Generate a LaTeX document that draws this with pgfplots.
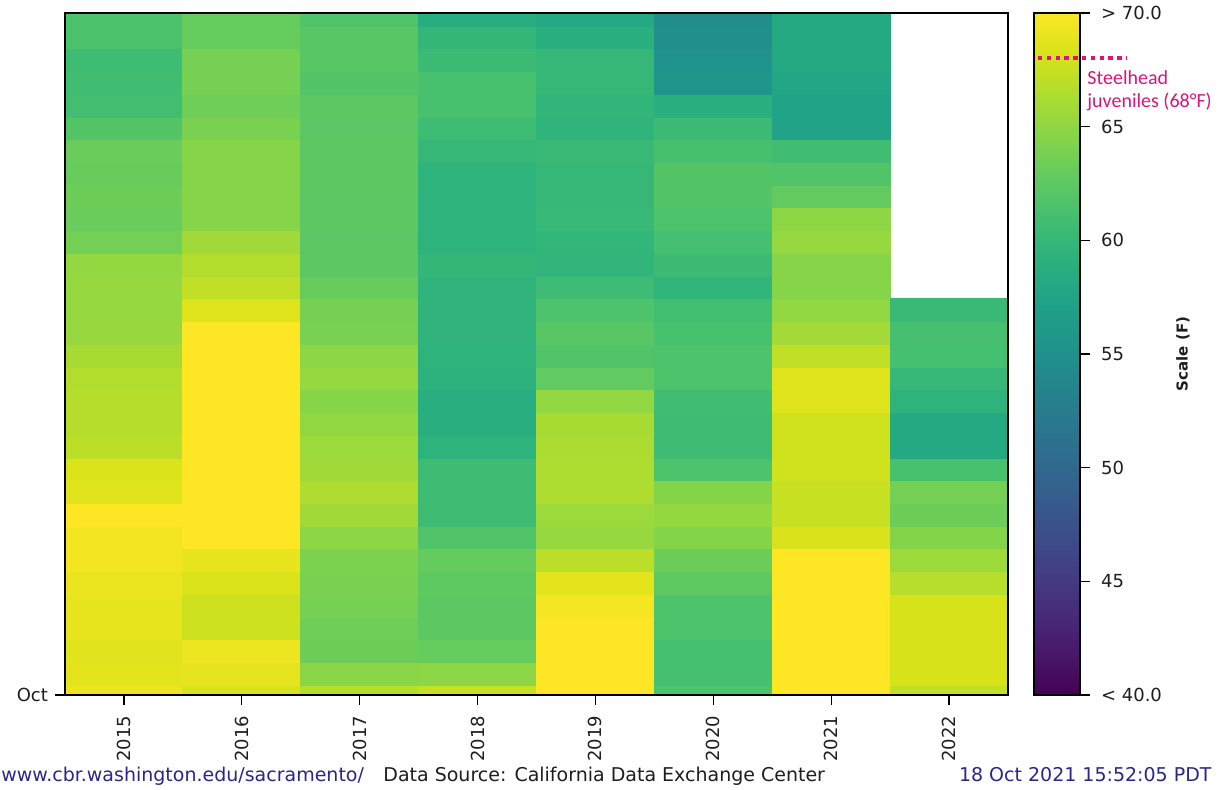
\documentclass[border=0pt]{standalone}
\usepackage{fontspec}
\setmainfont{DejaVu Sans}
\newfontfamily\calib{Carlito}
\usepackage{pgfplots}
\pgfplotsset{compat=1.18}
\definecolor{navy}{RGB}{40,40,140}
\definecolor{mag}{RGB}{220,20,120}
\definecolor{txt}{RGB}{30,30,30}
\begin{document}
\begin{tikzpicture}
\useasboundingbox (0pt,0pt) rectangle (614pt,395pt);
\begin{axis}[
  at={(32.5pt,47.5pt)}, anchor=south west,
  scale only axis, width=471.5pt, height=341pt,
  xmin=0, xmax=8, ymin=0, ymax=210,
  xtick={0.5,1.5,2.5,3.5,4.5,5.5,6.5,7.5},
  xticklabels={2015,2016,2017,2018,2019,2020,2021,2022},
  ytick={0}, yticklabels={Oct},
  xtick pos=bottom, ytick pos=left,
  tick align=outside, major tick length=5pt,
  tick style={black, line width=0.6pt},
  axis line style={black, line width=0.7pt},
  xticklabel style={rotate=90, anchor=east, font=\fontsize{9}{10}\selectfont, text=txt, xshift=-2pt},
  yticklabel style={font=\fontsize{9}{10}\selectfont, text=txt},
  axis on top,
  colormap/viridis, point meta min=40, point meta max=70,
]
% lattice: x = column boundary (0 = left edge of 2015), y = days since Oct 1 (cell lower edge), v = weekly temperature (F)
\addplot[surf, shader=flat corner, mesh/rows=32, mesh/cols=8, point meta=\thisrow{v}]
table[row sep=\\]{
x y v\\
0 0 69.2\\ 1 0 68.3\\ 2 0 66.7\\ 3 0 67.5\\ 4 0 70\\ 5 0 61.6\\ 6 0 70\\ 7 0 70\\
0 3 68.8\\ 1 3 68.9\\ 2 3 64.8\\ 3 3 64.9\\ 4 3 70\\ 5 3 61.1\\ 6 3 70\\ 7 3 70\\
0 10 68.7\\ 1 10 69.2\\ 2 10 63.3\\ 3 10 63.0\\ 4 10 70\\ 5 10 61.1\\ 6 10 70\\ 7 10 70\\
0 17 69.0\\ 1 17 67.8\\ 2 17 63.4\\ 3 17 62.5\\ 4 17 70\\ 5 17 61.6\\ 6 17 70\\ 7 17 70\\
0 24 69.0\\ 1 24 67.8\\ 2 24 63.8\\ 3 24 62.5\\ 4 24 69.6\\ 5 24 61.6\\ 6 24 70\\ 7 24 70\\
0 31 69.1\\ 1 31 68.4\\ 2 31 64.0\\ 3 31 62.6\\ 4 31 68.8\\ 5 31 62.6\\ 6 31 70\\ 7 31 70\\
0 38 69.5\\ 1 38 69.0\\ 2 38 64.1\\ 3 38 62.9\\ 4 38 67.0\\ 5 38 63.3\\ 6 38 70\\ 7 38 70\\
0 45 69.5\\ 1 45 70\\ 2 45 64.9\\ 3 45 61.8\\ 4 45 65.3\\ 5 45 64.5\\ 6 45 68.3\\ 7 45 68.3\\
0 52 70\\ 1 52 70\\ 2 52 65.8\\ 3 52 60.6\\ 4 52 65.6\\ 5 52 65.2\\ 6 52 67.5\\ 7 52 67.5\\
0 59 68.6\\ 1 59 70\\ 2 59 66.4\\ 3 59 60.6\\ 4 59 66.4\\ 5 59 64.5\\ 6 59 67.5\\ 7 59 67.5\\
0 66 68.4\\ 1 66 70\\ 2 66 65.8\\ 3 66 60.6\\ 4 66 66.4\\ 5 66 61.6\\ 6 66 67.9\\ 7 66 67.9\\
0 73 67.0\\ 1 73 70\\ 2 73 65.6\\ 3 73 59.4\\ 4 73 66.3\\ 5 73 60.6\\ 6 73 67.9\\ 7 73 67.9\\
0 80 66.7\\ 1 80 70\\ 2 80 65.1\\ 3 80 58.8\\ 4 80 66.1\\ 5 80 60.6\\ 6 80 67.9\\ 7 80 67.9\\
0 87 66.7\\ 1 87 70\\ 2 87 64.6\\ 3 87 58.8\\ 4 87 65.1\\ 5 87 60.8\\ 6 87 68.6\\ 7 87 68.6\\
0 94 66.6\\ 1 94 70\\ 2 94 65.3\\ 3 94 59.3\\ 4 94 62.7\\ 5 94 61.6\\ 6 94 68.6\\ 7 94 68.6\\
0 101 66.1\\ 1 101 70\\ 2 101 64.9\\ 3 101 59.5\\ 4 101 61.8\\ 5 101 61.6\\ 6 101 67.2\\ 7 101 67.2\\
0 108 65.4\\ 1 108 70\\ 2 108 63.9\\ 3 108 59.6\\ 4 108 62.2\\ 5 108 61.3\\ 6 108 65.9\\ 7 108 65.9\\
0 115 65.3\\ 1 115 68.6\\ 2 115 63.8\\ 3 115 59.6\\ 4 115 61.6\\ 5 115 60.9\\ 6 115 65.1\\ 7 115 65.1\\
0 122 65.3\\ 1 122 67.2\\ 2 122 63.1\\ 3 122 59.6\\ 4 122 60.6\\ 5 122 59.7\\ 6 122 64.6\\ 7 122 64.6\\
0 129 65.2\\ 1 129 66.6\\ 2 129 62.4\\ 3 129 59.9\\ 4 129 59.7\\ 5 129 60.5\\ 6 129 64.6\\ 7 129 64.6\\
0 136 63.7\\ 1 136 65.8\\ 2 136 62.3\\ 3 136 59.5\\ 4 136 59.8\\ 5 136 61.1\\ 6 136 65.3\\ 7 136 65.3\\
0 143 63.2\\ 1 143 64.6\\ 2 143 62.4\\ 3 143 59.5\\ 4 143 60.2\\ 5 143 61.6\\ 6 143 65.0\\ 7 143 65.0\\
0 150 63.3\\ 1 150 64.6\\ 2 150 62.4\\ 3 150 59.5\\ 4 150 60.0\\ 5 150 62.0\\ 6 150 62.8\\ 7 150 62.8\\
0 157 63.1\\ 1 157 64.6\\ 2 157 62.5\\ 3 157 59.5\\ 4 157 60.0\\ 5 157 62.0\\ 6 157 61.8\\ 7 157 61.8\\
0 164 63.2\\ 1 164 64.6\\ 2 164 62.4\\ 3 164 60.0\\ 4 164 60.3\\ 5 164 61.2\\ 6 164 60.8\\ 7 164 60.8\\
0 171 62.0\\ 1 171 64.0\\ 2 171 62.3\\ 3 171 60.6\\ 4 171 59.6\\ 5 171 60.5\\ 6 171 57.4\\ 7 171 57.4\\
0 178 61.0\\ 1 178 63.4\\ 2 178 62.4\\ 3 178 61.3\\ 4 178 59.7\\ 5 178 58.9\\ 6 178 57.4\\ 7 178 57.4\\
0 185 60.8\\ 1 185 63.8\\ 2 185 61.9\\ 3 185 61.3\\ 4 185 60.0\\ 5 185 55.6\\ 6 185 57.8\\ 7 185 57.8\\
0 192 60.6\\ 1 192 63.8\\ 2 192 62.2\\ 3 192 60.5\\ 4 192 60.0\\ 5 192 55.4\\ 6 192 58.1\\ 7 192 58.1\\
0 199 61.5\\ 1 199 63.0\\ 2 199 62.2\\ 3 199 59.9\\ 4 199 58.9\\ 5 199 55.0\\ 6 199 58.1\\ 7 199 58.1\\
0 206 61.5\\ 1 206 63.0\\ 2 206 61.8\\ 3 206 58.6\\ 4 206 58.2\\ 5 206 54.8\\ 6 206 58.1\\ 7 206 58.1\\
0 210 61.5\\ 1 210 63.0\\ 2 210 61.8\\ 3 210 58.6\\ 4 210 58.2\\ 5 210 54.8\\ 6 210 58.1\\ 7 210 58.1\\
};
% 2022 (data only up to day 122)
\addplot[surf, shader=flat corner, mesh/rows=19, mesh/cols=2, point meta=\thisrow{v}]
table[row sep=\\]{
x y v\\
7 0 67.2\\ 8 0 67.2\\
7 3 68.2\\ 8 3 68.2\\
7 10 68.2\\ 8 10 68.2\\
7 17 68.2\\ 8 17 68.2\\
7 24 68.2\\ 8 24 68.2\\
7 31 66.8\\ 8 31 66.8\\
7 38 65.6\\ 8 38 65.6\\
7 45 64.5\\ 8 45 64.5\\
7 52 63.3\\ 8 52 63.3\\
7 59 63.7\\ 8 59 63.7\\
7 66 61.3\\ 8 66 61.3\\
7 73 58.2\\ 8 73 58.2\\
7 80 58.2\\ 8 80 58.2\\
7 87 59.5\\ 8 87 59.5\\
7 94 60.0\\ 8 94 60.0\\
7 101 61.1\\ 8 101 61.1\\
7 108 61.2\\ 8 108 61.2\\
7 115 60.3\\ 8 115 60.3\\
7 122 60.3\\ 8 122 60.3\\
};
\end{axis}
% colour scale
\begin{axis}[
  at={(517pt,47.5pt)}, anchor=south west,
  scale only axis, width=23pt, height=341pt,
  xmin=0, xmax=1, ymin=40, ymax=70,
  xtick=\empty,
  ytick={40,45,50,55,60,65,70},
  yticklabels={< 40.0,45,50,55,60,65,> 70.0},
  ytick pos=right, yticklabel pos=right,
  tick align=outside, major tick length=5pt,
  tick style={black, line width=0.6pt},
  axis line style={black, line width=0.7pt},
  yticklabel style={font=\fontsize{9}{10}\selectfont, text=txt, xshift=2pt},
  axis on top,
  colormap/viridis, point meta min=40, point meta max=70,
]
\addplot[surf, shader=interp, mesh/rows=7, mesh/cols=2, point meta=\thisrow{v}]
table[row sep=\\]{
x y v\\
0 40 40\\ 1 40 40\\
0 45 45\\ 1 45 45\\
0 50 50\\ 1 50 50\\
0 55 55\\ 1 55 55\\
0 60 60\\ 1 60 60\\
0 65 65\\ 1 65 65\\
0 70 70\\ 1 70 70\\
};
\end{axis}
\begin{scope}[shift={(0pt,395pt)}, x=0.5pt, y=-0.5pt]
  \draw[mag, line width=2pt, dash pattern=on 2.2pt off 2.2pt] (1038,58.5) -- (1127,58.5);
  \node[anchor=base west, inner sep=0pt, text=mag, font=\calib\fontsize{10}{12}\selectfont] at (1087,85) {Steelhead};
  \node[anchor=base west, inner sep=0pt, text=mag, font=\calib\fontsize{10}{12}\selectfont] at (1087,108) {juveniles (68°F)};
  \node[rotate=90, inner sep=0pt, text=txt, font=\bfseries\fontsize{7.5}{9}\selectfont] at (1183,354) {Scale (F)};
  \node[anchor=base west, inner sep=0pt, text=navy, font=\fontsize{9.5}{11}\selectfont] at (1,782) {www.cbr.washington.edu/sacramento/};
  \node[anchor=base west, inner sep=0pt, text=txt, font=\fontsize{9.5}{11}\selectfont] at (383,782) {Data Source: California Data Exchange Center};
  \node[anchor=base east, inner sep=0pt, text=navy, font=\fontsize{9.5}{11}\selectfont] at (1212,782) {18 Oct 2021 15:52:05 PDT};
\end{scope}
\end{tikzpicture}
\end{document}
